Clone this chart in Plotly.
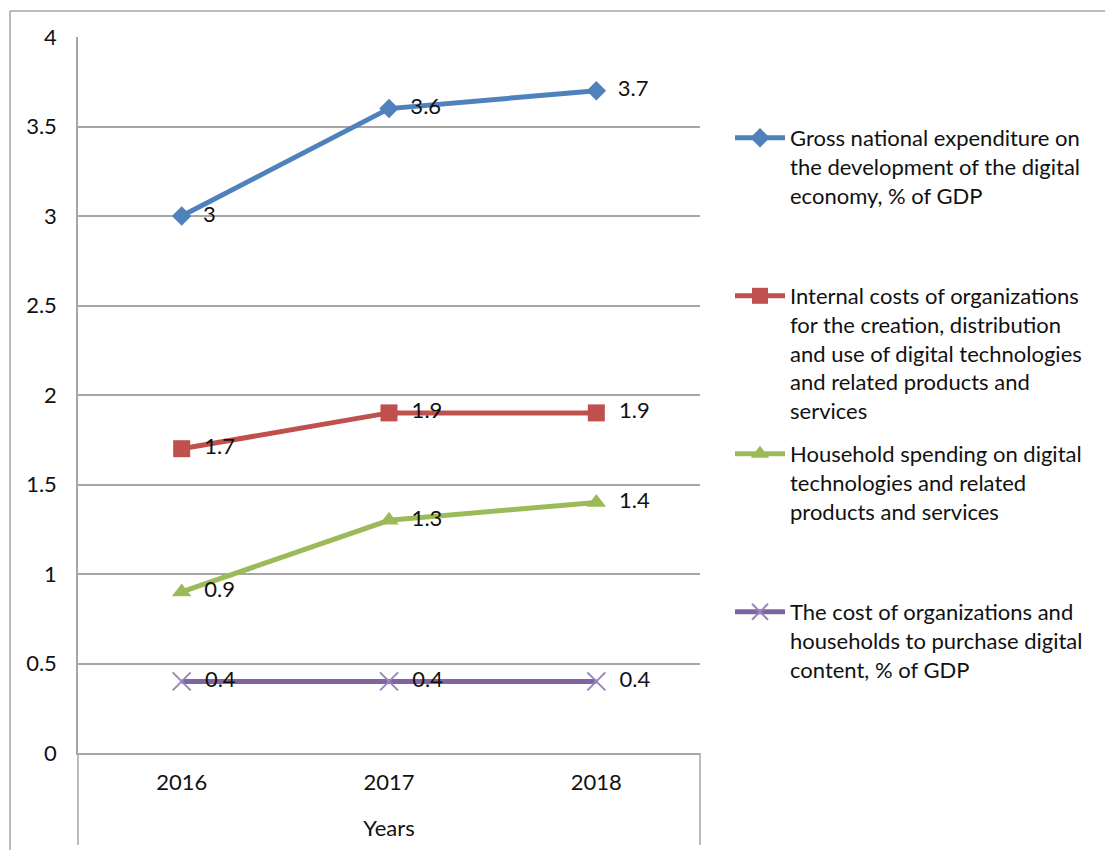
import plotly.graph_objects as go

years = ["2016", "2017", "2018"]
gross = [3.0, 3.6, 3.7]
internal = [1.7, 1.9, 1.9]
household = [0.9, 1.3, 1.4]
content = [0.4, 0.4, 0.4]

PAD = "<br>\u00a0<br>\u00a0"
names = [
    "Gross national expenditure on<br>the development of the digital<br>economy, % of GDP" + PAD,
    "Internal costs of organizations<br>for the creation, distribution<br>and use of digital technologies<br>and related products and<br>services",
    "Household spending on digital<br>technologies and related<br>products and services" + PAD,
    "The cost of organizations and<br>households to purchase digital<br>content, % of GDP",
]
colors = ["#4F81BD", "#C0504D", "#9BBB59", "#8064A2"]
symbols = ["diamond", "square", "triangle-up", "x-thin"]
sizes = [15, 17, 17, 18]
series = [gross, internal, household, content]

FONT = "Lato"
FS = 22

fig = go.Figure()
for vals, nm, col, sym, sz in zip(series, names, colors, symbols, sizes):
    marker = dict(symbol=sym, size=sz, color=col)
    if sym == "x-thin":
        marker = dict(symbol=sym, size=sz, color=col, line=dict(width=2, color="#9A86BC"))
    fig.add_trace(go.Scatter(
        x=years, y=vals, name=nm, mode="lines+markers+text",
        line=dict(color=col, width=5),
        marker=marker,
        text=["\u2002" + f"{v:g}" for v in vals], textposition="middle right",
        textfont=dict(family=FONT, size=FS, color="#111"),
        cliponaxis=False,
        legendgroup=nm,
    ))

L, R, T, B = 78, 700, 37, 753
W, H = 1105, 850
pw, ph = R - L, B - T

def px(x):
    return (x - L) / pw

def py(y):
    return (B - y) / ph

grey = "#A6A6A6"
shapes = [
    dict(type="line", xref="paper", yref="paper", x0=px(10), x1=px(1110), y0=py(11), y1=py(11), line=dict(color=grey, width=1.5)),
    dict(type="line", xref="paper", yref="paper", x0=px(10), x1=px(10), y0=py(11), y1=py(852), line=dict(color=grey, width=1.5)),
    dict(type="line", xref="paper", yref="paper", x0=0, x1=0, y0=0, y1=py(845), line=dict(color=grey, width=1.5)),
    dict(type="line", xref="paper", yref="paper", x0=1, x1=1, y0=0, y1=py(845), line=dict(color=grey, width=1.5)),
]

fig.update_layout(
    width=W, height=H,
    margin=dict(l=L, r=W - R, t=T, b=H - B),
    paper_bgcolor="white", plot_bgcolor="white",
    font=dict(family=FONT, size=FS, color="#111"),
    shapes=shapes,
    showlegend=True,
    legend=dict(
        x=px(730), y=py(117), xanchor="left", yanchor="top",
        font=dict(family=FONT, size=FS, color="#111"),
        valign="top", tracegroupgap=12, itemwidth=50,
        bgcolor="rgba(0,0,0,0)",
    ),
    xaxis=dict(
        type="category", range=[-0.5, 2.5], showgrid=False,
        showline=True, linecolor=grey, linewidth=1.5,
        ticks="", ticklabelstandoff=9,
        title=dict(text="Years", standoff=26, font=dict(family=FONT, size=FS, color="#111")),
        zeroline=False,
    ),
    yaxis=dict(
        range=[0, 4], dtick=0.5, showgrid=True, gridcolor=grey, gridwidth=1.5,
        showline=True, linecolor=grey, linewidth=1.5,
        ticks="", ticklabelstandoff=15, zeroline=False,
    ),
)

fig.write_html("out.html")
